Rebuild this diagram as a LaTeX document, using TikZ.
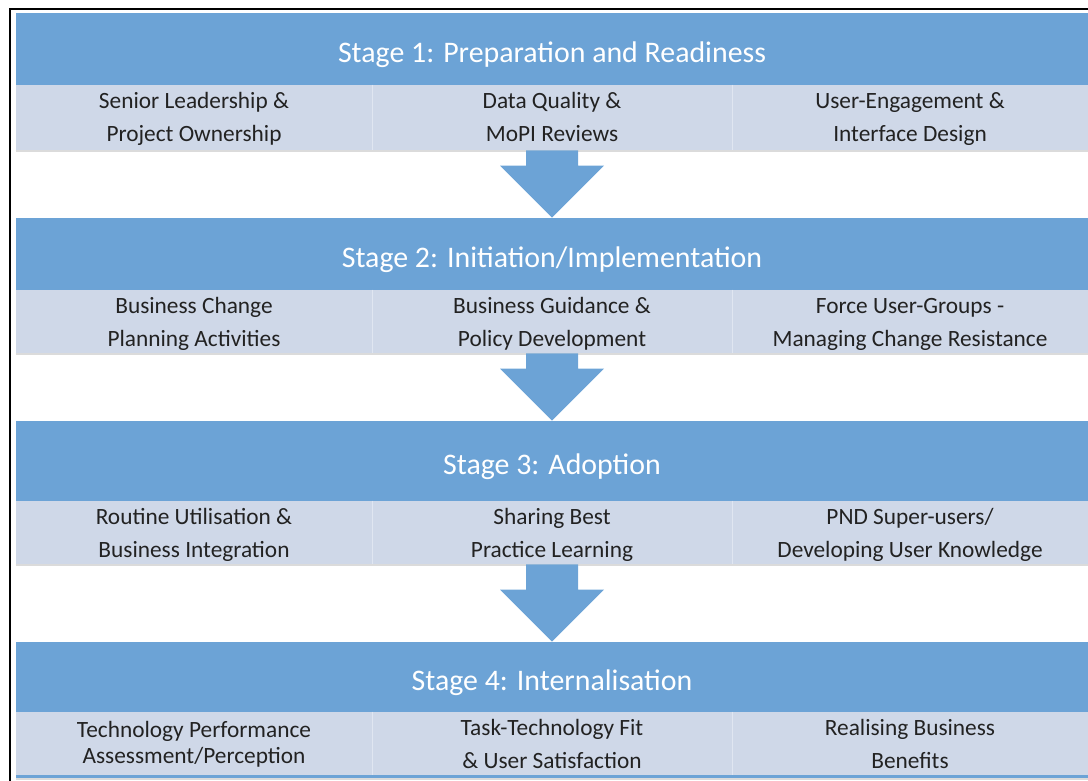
\documentclass[tikz,border=0pt]{standalone}
\usepackage{fontspec}
\setmainfont{Carlito}
\usepackage{tikz}
\usetikzlibrary{calc}

\definecolor{stageblue}{RGB}{108,163,214}
\definecolor{rowblue}{RGB}{207,216,232}
\definecolor{cellline}{RGB}{224,230,241}
\definecolor{celltext}{RGB}{34,34,34}

\tikzset{
  stagebar/.style={fill=stageblue, text=white, inner sep=0pt, minimum width=804pt,
    minimum height=#1, text height=20pt, text depth=0pt,
    font=\fontsize{22.4}{26}\selectfont},
  cellbox/.style={fill=rowblue, text=celltext, inner sep=0pt, minimum height=#1,
    text height=36.75pt, text depth=0pt, align=center,
    font=\fontsize{17.5}{24.75}\selectfont},
  sidecell/.style={cellbox=#1, minimum width=267pt},
  midcell/.style={cellbox=#1, minimum width=270pt},
  divider/.style={cellline, line width=1pt},
  rowshadow/.style={black!14, line width=1.5pt},
}

\begin{document}
\begin{tikzpicture}[x=0.75pt, y=-0.75pt]
    \useasboundingbox (0,0) rectangle (1088,781);

    % Frame
    \draw[line width=1.5pt] (10,781) -- (10,9) -- (1088,9);

    % Stage headers
    \node[stagebar=54pt] (h1) at (552,49) {Stage 1: Preparation and Readiness};
    \node[stagebar=54pt] (h2) at (552,254) {Stage 2: Initiation/Implementation};
    \node[stagebar=60pt] (h3) at (552,461) {Stage 3: Adoption};
    \node[stagebar=52.5pt] (h4) at (552,677) {Stage 4: Internalisation};

    % Cells for stage 1
    \node[sidecell=48.75pt] (r1a) at (194,117.5) {Senior Leadership \&\\Project Ownership};
    \node[midcell=48.75pt] (r1b) at (552,117.5) {Data Quality \&\\MoPI Reviews};
    \node[sidecell=48.75pt] (r1c) at (910,117.5) {User-Engagement \&\\Interface Design};

    % Cells for stage 2
    \node[sidecell=47.25pt] (r2a) at (194,321.5) {Business Change\\Planning Activities};
    \node[midcell=47.25pt] (r2b) at (552,321.5) {Business Guidance \&\\Policy Development};
    \node[sidecell=47.25pt] (r2c) at (910,321.5) {Force User-Groups -\\Managing Change Resistance};

    % Cells for stage 3
    \node[sidecell=47.25pt] (r3a) at (194,532.5) {Routine Utilisation \&\\Business Integration};
    \node[midcell=47.25pt] (r3b) at (552,532.5) {Sharing Best\\Practice Learning};
    \node[sidecell=47.25pt] (r3c) at (910,532.5) {PND Super-users/\\Developing User Knowledge};

    % Cells for stage 4
    \node[sidecell=47.25pt, text height=29.25pt, font=\fontsize{17.5}{19}\selectfont] (r4a) at (194,743.5) {Technology Performance\\Assessment/Perception};
    \node[midcell=47.25pt] (r4b) at (552,743.5) {Task-Technology Fit\\\& User Satisfaction};
    \node[sidecell=47.25pt] (r4c) at (910,743.5) {Realising Business\\Benefits};
    \fill[stageblue] (r4a.south west) rectangle ($(r4c.south east)+(0,3)$);

    % Dividers and shadows
    \foreach \r in {r1,r2,r3,r4} {
        \draw[divider] (\r a.north east) -- (\r a.south east);
        \draw[divider] (\r b.north east) -- (\r b.south east);
    }
    \foreach \r in {r1,r2,r3} {
        \draw[rowshadow] ($(\r a.south west)+(0,1)$) -- ($(\r c.south east)+(0,1)$);
    }
    \draw[rowshadow] ($(r4a.south west)+(0,4)$) -- ($(r4c.south east)+(0,4)$);

    % Arrows between the stages
    \foreach \a/\b in {r1b/h2, r2b/h3, r3b/h4} {
        \fill[stageblue] ($(\a.south)+(-26,0)$) -- ($(\a.south)+(26,0)$)
            -- ($(\b.north)+(26,-52)$) -- ($(\b.north)+(52,-52)$) -- (\b.north)
            -- ($(\b.north)+(-52,-52)$) -- ($(\b.north)+(-26,-52)$) -- cycle;
    }
\end{tikzpicture}
\end{document}
